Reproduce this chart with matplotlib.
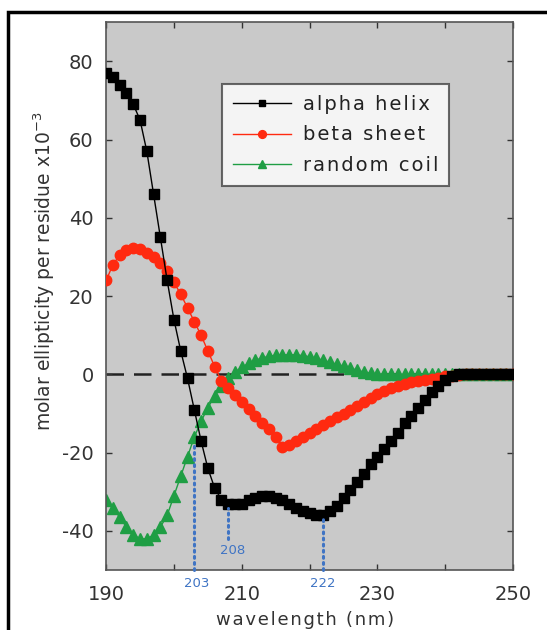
import numpy as np
import matplotlib.pyplot as plt
from matplotlib.patches import Rectangle

plt.rcParams["font.family"] = ["DejaVu Sans"]
plt.rcParams["axes.unicode_minus"] = False

# wavelength grid (nm), one reading per nm
wavelength = list(range(190, 251))

alpha_helix = [
    77, 76, 74, 72, 69, 65, 57, 46, 35, 24,
    14, 6, -1, -9, -17, -24, -29, -32, -33, -33,
    -33, -32, -31.5, -31, -31, -31.5, -32, -33, -34, -35,
    -35.5, -36, -36, -35, -33.5, -31.5, -29.5, -27.5, -25.5, -23,
    -21, -19, -17, -15, -12.5, -10.5, -8.5, -6.5, -4.5, -3,
    -1.5, -0.5, 0, 0, 0, 0, 0, 0, 0, 0, 0,
]
beta_sheet = [
    24, 28, 30.5, 31.8, 32.2, 32, 31, 30, 28.5, 26.5,
    23.5, 20.5, 17, 13.5, 10, 6, 2, -1.6, -3.4, -5.2,
    -7, -8.8, -10.5, -12.3, -14, -16, -18.5, -18, -17, -16,
    -15, -14, -13, -12, -11, -10, -9, -8, -7, -6,
    -5, -4.3, -3.6, -3, -2.5, -2, -1.7, -1.4, -1.1, -0.8,
    -0.5, -0.3, -0.1, 0, 0, 0, 0, 0, 0, 0, 0,
]
random_coil = [
    -32, -34, -36.5, -39, -41, -42, -42, -41, -39, -36,
    -31, -26, -21, -16, -12, -8.5, -5.5, -3, -1, 0.5,
    1.8, 2.8, 3.6, 4.2, 4.6, 4.9, 5, 5, 5, 4.8,
    4.5, 4.1, 3.6, 3.1, 2.6, 2.1, 1.6, 1.1, 0.6, 0.3,
    0.1, 0, 0, 0, 0, 0, 0, 0, 0, 0,
    0, 0, 0, 0, 0, 0, 0, 0, 0, 0, 0,
]
series_names = ["alpha helix", "beta sheet", "random coil"]

x_ticks = [190, 200, 210, 220, 230, 240, 250]
x_ticklabels = ["190", "", "210", "", "230", "", "250"]
y_ticks = [-40, -20, 0, 20, 40, 60, 80]

# characteristic wavelengths marked in blue: (nm, top of dotted line, bottom)
marks_nm = [203, 208, 222]
marks_top = [-18, -34, -36.5]
marks_bottom = [-50, -42, -50]

blue = "#3f74c4"
text_col = "#333333"


def spaced(s):
    # the original uses loosely tracked lettering
    return "\u200a".join(s)


fig = plt.figure(figsize=(5.47, 6.30), dpi=100)
ax = fig.add_axes([0.194, 0.095, 0.744, 0.870])
ax.set_facecolor("#c9c9c9")

ax.axhline(0, color="#222222", lw=1.8, ls=(0, (7, 4)), zorder=1)

ax.plot(wavelength, random_coil, color="#1f9e44", lw=1.0, marker="^",
        ms=8, mec="#1f9e44", mfc="#1f9e44", label=series_names[2], zorder=2)
ax.plot(wavelength, beta_sheet, color="#ff2a10", lw=1.0, marker="o",
        ms=7.5, mec="#ff2a10", mfc="#ff2a10", label=series_names[1], zorder=3)
ax.plot(wavelength, alpha_helix, color="black", lw=1.0, marker="s",
        ms=6.5, mec="black", mfc="black", label=series_names[0], zorder=4)

for nm, top, bot in zip(marks_nm, marks_top, marks_bottom):
    ax.plot([nm, nm], [bot, top], color=blue, lw=2.2, ls=(0, (0.6, 1.4)),
            dash_capstyle="round", zorder=5, clip_on=False)

ax.text(208.6, -45, "208", color=blue, fontsize=9.5,
        ha="center", va="center")
ax.text(203.4, -51.8, "203", color=blue, fontsize=9.5,
        ha="center", va="top")
ax.text(222, -51.8, "222", color=blue, fontsize=9.5,
        ha="center", va="top")

ax.set_xlim(190, 250)
ax.set_ylim(-50, 90)
ax.set_xticks(x_ticks)
ax.set_xticklabels(x_ticklabels)
ax.set_yticks(y_ticks)
ax.tick_params(direction="in", length=4, width=1, top=True, right=True,
               labelsize=14, colors=text_col)
ax.tick_params(axis="y", pad=9)
ax.tick_params(axis="x", pad=11)
for s in ax.spines.values():
    s.set_color("#555555")
    s.set_linewidth(1.2)

ax.set_xlabel(spaced("wavelength (nm)"), fontsize=13, color=text_col)
ax.xaxis.set_label_coords(0.49, -0.075)
ax.set_ylabel("molar ellipticity per residue x10$^{-3}$", fontsize=13.5,
              color=text_col)
ax.yaxis.set_label_coords(-0.12, 0.545)

handles, labels = ax.get_legend_handles_labels()
order = [2, 1, 0]
leg = ax.legend([handles[i] for i in order],
                [spaced(labels[i]) for i in order],
                loc="upper left", bbox_to_anchor=(0.285, 0.887),
                borderaxespad=0, fontsize=14, frameon=True, fancybox=False,
                edgecolor="#444444", handlelength=3.0, borderpad=0.55,
                labelspacing=0.6, handletextpad=0.6, markerscale=0.75)
leg.get_frame().set_linewidth(1.5)
for t in leg.get_texts():
    t.set_color("#222222")

# outer black frame of the original figure panel
fig.patches.append(Rectangle((8 / 547, -0.1), 1.2, 1 - 12 / 630 + 0.1,
                             transform=fig.transFigure, fill=False,
                             edgecolor="black", lw=2.5))

fig.savefig("out.png", dpi=100)
